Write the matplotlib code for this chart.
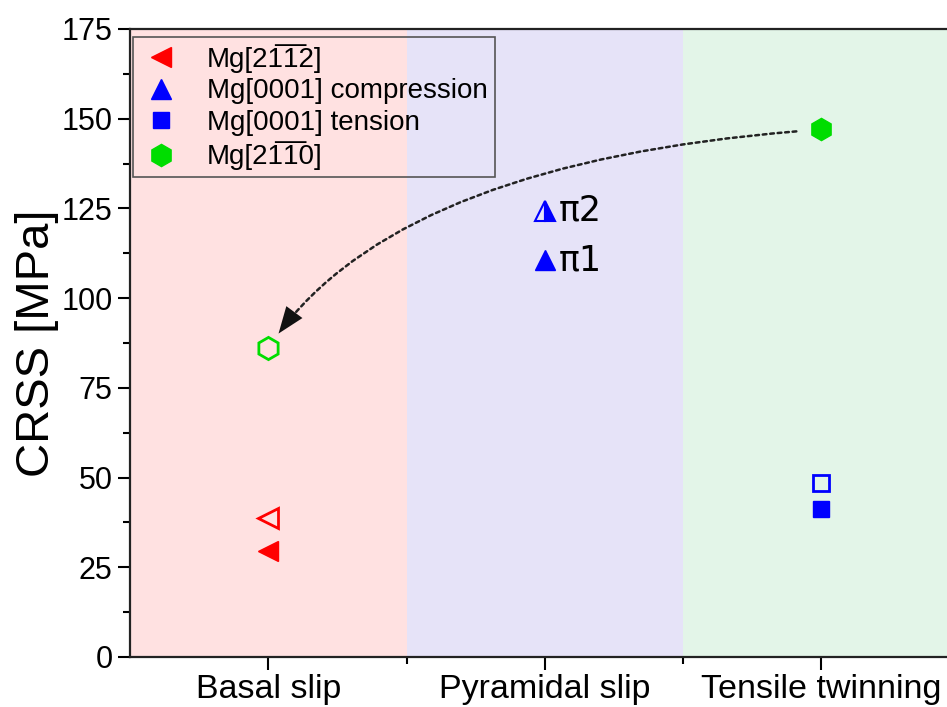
import matplotlib
matplotlib.use("Agg")
import matplotlib.pyplot as plt
from matplotlib.ticker import MultipleLocator, FixedLocator

plt.rcParams['font.family'] = ['Liberation Sans', 'DejaVu Sans']

# categories along x
categories = ["Basal slip", "Pyramidal slip", "Tensile twinning"]
band_colors = ["#ffe1e1", "#e6e3f8", "#e3f5e8"]

# Mg[2-1-12]  (basal slip)
red_filled = 29.5
red_open = 38.7
# Mg[0001] compression (pyramidal slip)
pi1 = 110.5
pi2 = 124.3
# Mg[0001] tension (tensile twinning)
sq_filled = 41.2
sq_open = 48.5
# Mg[2-1-10]
hex_twin = 147.0
hex_basal = 86.0

bar1 = '1\u0305'  # 1 with overbar

fig = plt.figure(figsize=(9.47, 7.07), dpi=100)
ax = fig.add_axes([130/947, 50/707, 829.5/947, 628/707])

for i, c in enumerate(band_colors):
    ax.axvspan(i - 0.5, i + 0.5, color=c, lw=0, zorder=0)

# basal slip
ax.plot(0, red_filled, marker='<', ms=15, color='red', ls='none',
        label='Mg[2' + bar1 + bar1 + '2]')
ax.plot(0, red_open, marker='<', ms=15, mfc='none', mec='red', mew=2, ls='none')

# pyramidal slip
ax.plot(1, pi1, marker='^', ms=15, color='blue', ls='none',
        label='Mg[0001] compression')
ax.plot(1, pi2, marker='^', ms=15, color='blue', fillstyle='right',
        markerfacecoloralt='none', mew=1.5, ls='none')

# tensile twinning
ax.plot(2, sq_filled, marker='s', ms=12, color='blue', ls='none',
        label='Mg[0001] tension')
ax.plot(2, sq_open, marker='s', ms=12, mfc='none', mec='blue', mew=2, ls='none')

ax.plot(2, hex_twin, marker='h', ms=16, color='#00dd00', ls='none',
        label='Mg[2' + bar1 + bar1 + '0]')
ax.plot(0, hex_basal, marker='h', ms=16, mfc='none', mec='#00dd00', mew=2, ls='none')

# pi labels
for val, lab in [(pi2, 'π2'), (pi1, 'π1')]:
    ax.annotate(lab, xy=(1, val), xytext=(10, 0), textcoords='offset points',
                va='center', ha='left', fontsize=25, family='DejaVu Sans')

# curved dotted arrow: dotted shaft + solid head on the same path
conn = 'angle3,angleA=4,angleB=57'
ax.annotate('', xy=(0, hex_basal), xytext=(2, hex_twin),
            arrowprops=dict(arrowstyle='-', connectionstyle=conn,
                            linestyle=(0, (1.5, 1.5)), lw=1.8, color='#222222',
                            shrinkA=18, shrinkB=20))
ax.annotate('', xy=(0, hex_basal), xytext=(2, hex_twin),
            arrowprops=dict(arrowstyle='-|>,head_length=0.8,head_width=0.3',
                            connectionstyle=conn, lw=0, color='#111111',
                            shrinkA=18, shrinkB=13, mutation_scale=24))

ax.set_xlim(-0.5, 2.5)
ax.set_ylim(0, 175)
ax.set_xticks(range(len(categories)))
ax.set_xticklabels(categories, fontsize=24.5)
ax.xaxis.set_minor_locator(FixedLocator([0.5, 1.5]))
ax.yaxis.set_major_locator(MultipleLocator(25))
ax.yaxis.set_minor_locator(MultipleLocator(12.5))
ax.tick_params(axis='y', labelsize=22)
ax.tick_params(which='major', direction='out', length=9, width=1.5)
ax.tick_params(which='minor', direction='out', length=5, width=1.5)
ax.set_ylabel('CRSS [MPa]', fontsize=34, labelpad=2)
for s in ax.spines.values():
    s.set_linewidth(1.6)
    s.set_color('#222222')

leg = ax.legend(loc='upper left', bbox_to_anchor=(0.004, 0.987), fontsize=20,
                frameon=True, fancybox=False, framealpha=1, edgecolor='#555555',
                labelspacing=0.2, handletextpad=0.9, borderpad=0.25,
                borderaxespad=0.0, handlelength=1.5)
leg.get_frame().set_facecolor('none')
leg.get_frame().set_linewidth(1.2)

fig.savefig('out.png', dpi=100)
